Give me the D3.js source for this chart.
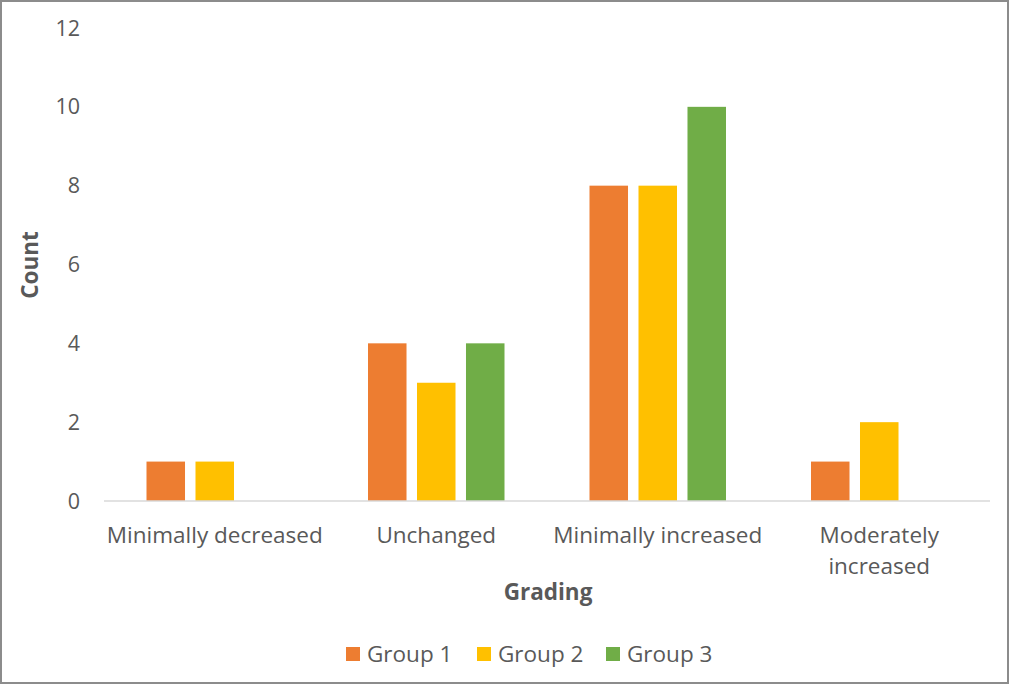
<!DOCTYPE html>
<html><head><meta charset="utf-8">
<script src="https://cdn.jsdelivr.net/npm/d3@7"></script>
<style>body{margin:0;background:#fff}svg{display:block}text{font-family:"Open Sans",sans-serif}</style>
</head><body>
<svg id="c" width="1011" height="685"></svg>
<script>
const categories = ["Minimally decreased", "Unchanged", "Minimally increased", "Moderately increased"];
const categoryLines = [["Minimally decreased"], ["Unchanged"], ["Minimally increased"], ["Moderately", "increased"]];
const groups = ["Group 1", "Group 2", "Group 3"];
const group1 = [1, 4, 8, 1];
const group2 = [1, 3, 8, 2];
const group3 = [0, 4, 10, 0];
const seriesValues = [group1, group2, group3];
const yTicks = [0, 2, 4, 6, 8, 10, 12];
const colors = ["#ED7D31", "#FFC000", "#70AD47"];

(function(){
const svg = d3.select("#c");
svg.append("rect").attr("x",1).attr("y",1).attr("width",1007).attr("height",682)
  .attr("fill","#fff").attr("stroke","#8c8c8c").attr("stroke-width",2);

const pL = 104, pR = 990, pT = 28, pB = 501;
const fs = 22.5;
const x0 = d3.scaleBand().domain(categories).range([pL, pR]).padding(0);
const bw = x0.bandwidth();
const gw = 136.5;
const x1 = d3.scaleBand().domain(groups).range([(bw-gw)/2, (bw+gw)/2]).paddingInner(0.214);
const y = d3.scaleLinear().domain([0, 12]).range([pB, pT]);

svg.append("g").selectAll("text").data(yTicks).join("text")
  .attr("x", 80).attr("y", d => y(d)).attr("dy","0.35em").attr("text-anchor","end")
  .attr("font-size", 21.5).attr("fill","#595959").text(d => d);

const data = [];
categories.forEach((c, i) => groups.forEach((g, j) => data.push({c, g, j, v: seriesValues[j][i]})));
svg.append("g").selectAll("rect").data(data.filter(d => d.v > 0)).join("rect")
  .attr("x", d => x0(d.c) + x1(d.g)).attr("width", x1.bandwidth())
  .attr("y", d => y(d.v)).attr("height", d => y(0) - y(d.v))
  .attr("fill", d => colors[d.j]);

svg.append("line").attr("x1", pL).attr("x2", pR).attr("y1", y(0)).attr("y2", y(0))
  .attr("stroke","#d9d9d9").attr("stroke-width",1.5);

const cl = svg.append("g").selectAll("text").data(categories).join("text")
  .attr("text-anchor","middle").attr("font-size",fs).attr("fill","#595959");
cl.each(function(c, i){
  const t = d3.select(this);
  categoryLines[i].forEach((line, k) => {
    t.append("tspan").attr("x", x0(c) + bw/2).attr("y", 535 + k*31).attr("dy","0.35em").text(line);
  });
});

svg.append("text").attr("transform","translate(30,265) rotate(-90)").attr("dy","0.35em")
  .attr("text-anchor","middle").attr("font-size",fs).attr("font-weight","bold").attr("fill","#595959").text("Count");
svg.append("text").attr("x", 548).attr("y", 592).attr("dy","0.35em")
  .attr("text-anchor","middle").attr("font-size",fs).attr("font-weight","bold").attr("fill","#595959").text("Grading");

const legX = [346, 477, 606];
const lg = svg.append("g").selectAll("g").data(groups).join("g")
  .attr("transform", (d, i) => `translate(${legX[i]},647)`);
lg.append("rect").attr("width",14).attr("height",14).attr("fill",(d,i)=>colors[i]);
lg.append("text").attr("x",21).attr("y",7).attr("dy","0.35em").attr("font-size",fs)
  .attr("fill","#595959").text(d => d);
})();
</script>
</body></html>
